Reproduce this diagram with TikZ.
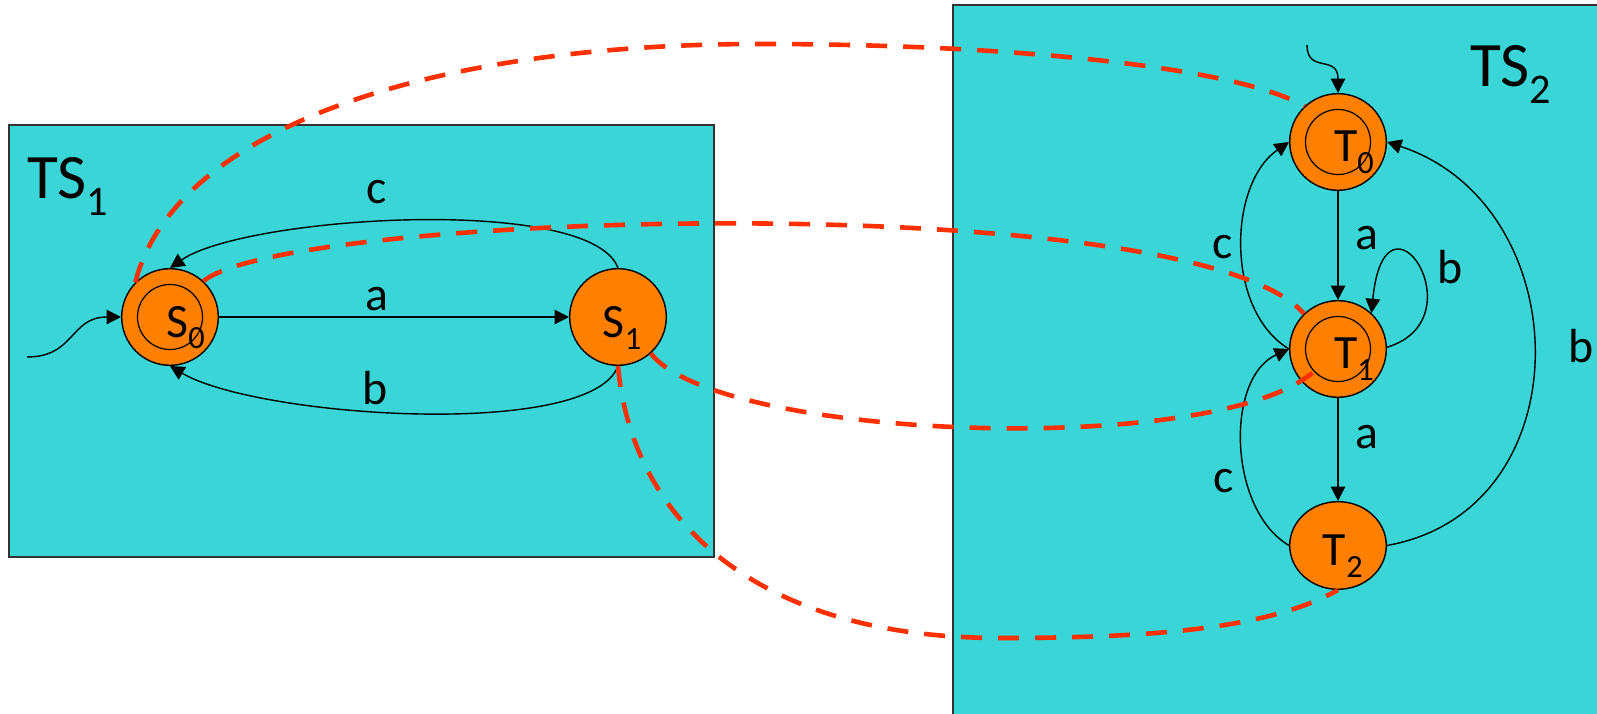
\documentclass[tikz,border=0pt]{standalone}
\usepackage{fontspec}
\setmainfont{Carlito}
\usetikzlibrary{arrows.meta, shapes.geometric}
\definecolor{boxcyan}{RGB}{58,213,214}
\definecolor{stateorange}{RGB}{255,128,0}
\definecolor{relred}{RGB}{255,48,0}
\newcommand{\stsub}[1]{\raisebox{-8.5pt}{\fontsize{23}{23}\selectfont #1}}
\newcommand{\tssub}[1]{\raisebox{-11.4pt}{\fontsize{30}{30}\selectfont #1}}

\begin{document}
\begin{tikzpicture}[x=0.025cm, y=0.025cm,
    system/.style={draw=black!80, line width=0.05cm, fill=boxcyan},
    state/.style={circle, draw, line width=0.035cm, fill=stateorange, minimum size=2.415cm, inner sep=0pt},
    dstate/.style={state, path picture={\draw[line width=0.03cm] (path picture bounding box.center) circle (0.8125cm);}},
    stxt/.style={inner sep=0pt, yshift=-0.265cm, font=\fontsize{34}{40}\selectfont},
    tsname/.style={anchor=base west, inner sep=0pt, font=\fontsize{45}{50}\selectfont},
    tr/.style={-{Triangle[length=0.36cm, width=0.36cm]}, line width=0.035cm},
    lab/.style={inner sep=0pt, font=\fontsize{34}{40}\selectfont},
    rel/.style={relred, line width=0.115cm, dash pattern=on 0.525cm off 0.4cm}
]
\useasboundingbox (0,0) rectangle (1597,714);
\clip (0,0) rectangle (1597,714);

% Systems
\draw[system] (9,157) rectangle (714,589);
\draw[system] (953,-20) rectangle (1640,709);
\node[tsname] (ts1) at (27,515) {TS\tssub{1}};
\node[tsname] (ts2) at (1470,627) {TS\tssub{2}};

% States
\node[dstate, label={[stxt, name=s0t, xshift=0.39cm]center:S\stsub{0}}] (s0) at (170,397) {};
\node[state, label={[stxt, name=s1t, xshift=0.1cm]center:S\stsub{1}}] (s1) at (618,397) {};
\node[dstate, label={[stxt, name=t0t, xshift=0.4cm]center:T\stsub{0}}] (t0) at (1338,572) {};
\node[dstate, label={[stxt, name=t1t, xshift=0.4cm]center:T\stsub{1}}] (t1) at (1338,365) {};
\node[state, ellipse, minimum height=2.19cm, label={[stxt, name=t2t, xshift=0.12cm]center:T\stsub{2}}] (t2) at (1338,168.5) {};

% Initial arrows
\coordinate (s0in) at (27,357);
\coordinate (t0in) at (1307,669);
\draw[tr] (s0in) .. controls (75,357) and (70,397) .. (s0.west);
\draw[tr] (t0in) .. controls (1307,640) and (1338,660) .. (t0.north);

% TS1 transitions
\draw[tr] (s0) -- node[lab, pos=0.45, above=0.125cm] (s0s1a) {a} (s1);
\draw[tr] (s1.north) .. controls (591,520) and (245,498) .. node[lab, pos=0.56, above=0.45cm] (s1s0c) {c} (s0.north);
\draw[tr] (s1.south) .. controls (591,274) and (257,296.5) .. node[lab, pos=0.57, above=0.125cm] (s1s0b) {b} (s0.south);

% TS2 transitions
\draw[tr] (t0) -- node[lab, pos=0.43, right=0.425cm] (t0t1a) {a} (t1);
\draw[tr] (t1) -- node[lab, pos=0.38, right=0.425cm] (t1t2a) {a} (t2);
\draw[tr] (t1.2) .. controls (1480,395) and (1385,540) .. node[lab, pos=0.5, right=0.45cm] (t1t1b) {b} (t1.47);
\draw[tr] (t1.west) .. controls (1225,403.5) and (1228,530) .. node[lab, pos=0.5, left=0.225cm] (t1t0c) {c} (t0.west);
\draw[tr] (t2.west) .. controls (1228,204.5) and (1225,336) .. node[lab, pos=0.35, left=0.3cm] (t2t1c) {c} (t1.west);
\draw[tr] (t2.east) .. controls (1586,204) and (1579,509) .. node[lab, pos=0.515, right=0.85cm] (t2t0b) {b} (t0.east);

% Simulation relation
\draw[rel] (s0.135) .. controls (172,577) and (410,670) .. (760,670) .. controls (1010,670) and (1236,647) .. (t0.133);
\draw[rel] (s0.47) .. controls (287.5,502.8) and (1193,527.8) .. (t1.134);
\draw[rel, shorten >=-0.35cm] (s1.-48) .. controls (717.7,274.3) and (1210,255.6) .. (t1.222);
\draw[rel] (s1.south) .. controls (631,199.6) and (750,76) .. (1000,76) .. controls (1150,76) and (1268.7,85) .. (t2.south);

\end{tikzpicture}
\end{document}
